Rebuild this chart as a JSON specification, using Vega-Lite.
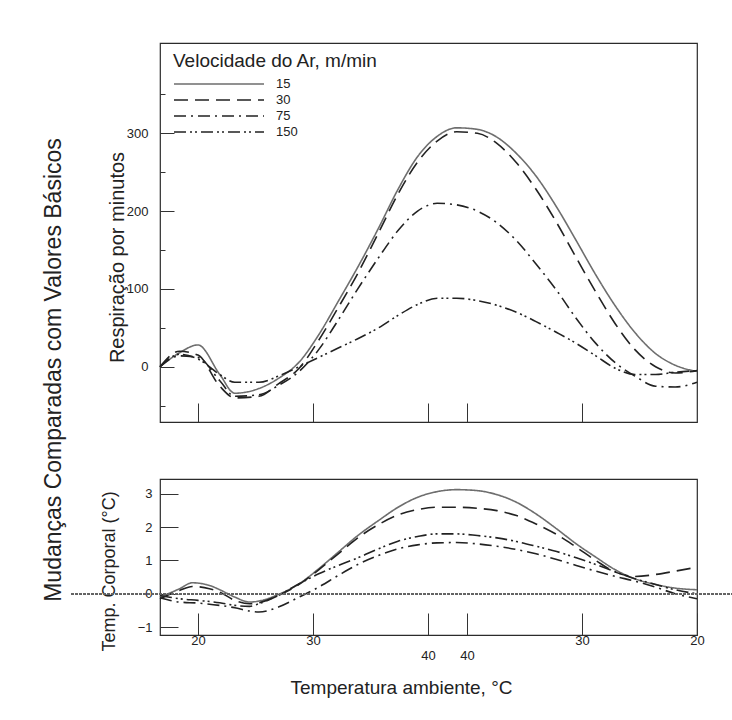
{
  "$schema": "https://vega.github.io/schema/vega-lite/v6.json",
  "background": "white",
  "padding": {"left": 43, "top": 42, "right": 0, "bottom": 5},
  "title": {"text": "Mudanças Comparadas com Valores Básicos", "orient": "left", "anchor": "middle", "font": "Liberation Sans", "fontSize": 23, "fontWeight": "normal", "color": "#222", "offset": 4},
  "spacing": 54,
  "datasets": {
    "resp": [
      {"t": -3.3, "vel": "15", "resp": 0}, {"t": -1.6, "vel": "15", "resp": 18}, {"t": 0, "vel": "15", "resp": 28}, {"t": 1.9, "vel": "15", "resp": -10}, {"t": 3.2, "vel": "15", "resp": -34}, {"t": 5.3, "vel": "15", "resp": -28}, {"t": 7.0, "vel": "15", "resp": -15}, {"t": 8.8, "vel": "15", "resp": 6}, {"t": 10.5, "vel": "15", "resp": 41}, {"t": 12.2, "vel": "15", "resp": 84}, {"t": 13.9, "vel": "15", "resp": 128}, {"t": 15.7, "vel": "15", "resp": 178}, {"t": 17.4, "vel": "15", "resp": 228}, {"t": 19.1, "vel": "15", "resp": 270}, {"t": 20.8, "vel": "15", "resp": 296}, {"t": 22.5, "vel": "15", "resp": 307}, {"t": 24.3, "vel": "15", "resp": 305}, {"t": 26.0, "vel": "15", "resp": 295}, {"t": 27.7, "vel": "15", "resp": 274}, {"t": 29.4, "vel": "15", "resp": 245}, {"t": 31.2, "vel": "15", "resp": 205}, {"t": 32.9, "vel": "15", "resp": 162}, {"t": 34.6, "vel": "15", "resp": 118}, {"t": 36.3, "vel": "15", "resp": 78}, {"t": 38.0, "vel": "15", "resp": 44}, {"t": 39.8, "vel": "15", "resp": 17}, {"t": 41.5, "vel": "15", "resp": 2}, {"t": 43.4, "vel": "15", "resp": -6},
      {"t": -3.3, "vel": "30", "resp": 0}, {"t": -1.6, "vel": "30", "resp": 20}, {"t": 0, "vel": "30", "resp": 15}, {"t": 1.9, "vel": "30", "resp": -25}, {"t": 3.2, "vel": "30", "resp": -40}, {"t": 5.3, "vel": "30", "resp": -38}, {"t": 7.0, "vel": "30", "resp": -22}, {"t": 8.8, "vel": "30", "resp": -2}, {"t": 10.5, "vel": "30", "resp": 34}, {"t": 12.2, "vel": "30", "resp": 76}, {"t": 13.9, "vel": "30", "resp": 120}, {"t": 15.7, "vel": "30", "resp": 172}, {"t": 17.4, "vel": "30", "resp": 222}, {"t": 19.1, "vel": "30", "resp": 263}, {"t": 20.8, "vel": "30", "resp": 290}, {"t": 22.5, "vel": "30", "resp": 302}, {"t": 24.3, "vel": "30", "resp": 300}, {"t": 26.0, "vel": "30", "resp": 287}, {"t": 27.7, "vel": "30", "resp": 262}, {"t": 29.4, "vel": "30", "resp": 228}, {"t": 31.2, "vel": "30", "resp": 185}, {"t": 32.9, "vel": "30", "resp": 140}, {"t": 34.6, "vel": "30", "resp": 96}, {"t": 36.3, "vel": "30", "resp": 55}, {"t": 38.0, "vel": "30", "resp": 22}, {"t": 39.8, "vel": "30", "resp": 0}, {"t": 41.5, "vel": "30", "resp": -8}, {"t": 43.4, "vel": "30", "resp": -5},
      {"t": -3.3, "vel": "75", "resp": 0}, {"t": -1.6, "vel": "75", "resp": 14}, {"t": 0, "vel": "75", "resp": 12}, {"t": 1.9, "vel": "75", "resp": -18}, {"t": 3.2, "vel": "75", "resp": -38}, {"t": 5.3, "vel": "75", "resp": -36}, {"t": 7.0, "vel": "75", "resp": -24}, {"t": 8.8, "vel": "75", "resp": -6}, {"t": 10.5, "vel": "75", "resp": 22}, {"t": 12.2, "vel": "75", "resp": 60}, {"t": 13.9, "vel": "75", "resp": 100}, {"t": 15.7, "vel": "75", "resp": 140}, {"t": 17.4, "vel": "75", "resp": 175}, {"t": 19.1, "vel": "75", "resp": 200}, {"t": 20.8, "vel": "75", "resp": 210}, {"t": 22.5, "vel": "75", "resp": 208}, {"t": 24.3, "vel": "75", "resp": 200}, {"t": 26.0, "vel": "75", "resp": 185}, {"t": 27.7, "vel": "75", "resp": 162}, {"t": 29.4, "vel": "75", "resp": 132}, {"t": 31.2, "vel": "75", "resp": 98}, {"t": 32.9, "vel": "75", "resp": 62}, {"t": 34.6, "vel": "75", "resp": 30}, {"t": 36.3, "vel": "75", "resp": 5}, {"t": 38.0, "vel": "75", "resp": -12}, {"t": 39.8, "vel": "75", "resp": -25}, {"t": 41.5, "vel": "75", "resp": -26}, {"t": 43.4, "vel": "75", "resp": -20},
      {"t": -3.3, "vel": "150", "resp": 0}, {"t": -1.6, "vel": "150", "resp": 16}, {"t": 0, "vel": "150", "resp": 10}, {"t": 1.9, "vel": "150", "resp": -10}, {"t": 3.2, "vel": "150", "resp": -20}, {"t": 5.3, "vel": "150", "resp": -20}, {"t": 7.0, "vel": "150", "resp": -12}, {"t": 8.8, "vel": "150", "resp": 0}, {"t": 10.5, "vel": "150", "resp": 12}, {"t": 12.2, "vel": "150", "resp": 24}, {"t": 13.9, "vel": "150", "resp": 36}, {"t": 15.7, "vel": "150", "resp": 50}, {"t": 17.4, "vel": "150", "resp": 66}, {"t": 19.1, "vel": "150", "resp": 80}, {"t": 20.8, "vel": "150", "resp": 88}, {"t": 22.5, "vel": "150", "resp": 88}, {"t": 24.3, "vel": "150", "resp": 85}, {"t": 26.0, "vel": "150", "resp": 79}, {"t": 27.7, "vel": "150", "resp": 70}, {"t": 29.4, "vel": "150", "resp": 58}, {"t": 31.2, "vel": "150", "resp": 44}, {"t": 32.9, "vel": "150", "resp": 30}, {"t": 34.6, "vel": "150", "resp": 14}, {"t": 36.3, "vel": "150", "resp": -2}, {"t": 38.0, "vel": "150", "resp": -10}, {"t": 39.8, "vel": "150", "resp": -10}, {"t": 41.5, "vel": "150", "resp": -7}, {"t": 43.4, "vel": "150", "resp": -5}
    ],
    "temp": [
      {"t": -3.3, "vel": "15", "temp": -0.1}, {"t": -1.6, "vel": "15", "temp": 0.15}, {"t": -0.5, "vel": "15", "temp": 0.33}, {"t": 1.0, "vel": "15", "temp": 0.25}, {"t": 1.9, "vel": "15", "temp": 0.12}, {"t": 3.2, "vel": "15", "temp": -0.1}, {"t": 4.5, "vel": "15", "temp": -0.25}, {"t": 5.3, "vel": "15", "temp": -0.22}, {"t": 7.0, "vel": "15", "temp": -0.02}, {"t": 8.8, "vel": "15", "temp": 0.3}, {"t": 10.5, "vel": "15", "temp": 0.75}, {"t": 12.2, "vel": "15", "temp": 1.25}, {"t": 13.9, "vel": "15", "temp": 1.75}, {"t": 15.7, "vel": "15", "temp": 2.2}, {"t": 17.4, "vel": "15", "temp": 2.6}, {"t": 19.1, "vel": "15", "temp": 2.9}, {"t": 20.8, "vel": "15", "temp": 3.07}, {"t": 22.5, "vel": "15", "temp": 3.13}, {"t": 24.3, "vel": "15", "temp": 3.1}, {"t": 26.0, "vel": "15", "temp": 2.98}, {"t": 27.7, "vel": "15", "temp": 2.75}, {"t": 29.4, "vel": "15", "temp": 2.4}, {"t": 31.2, "vel": "15", "temp": 1.95}, {"t": 32.9, "vel": "15", "temp": 1.5}, {"t": 34.6, "vel": "15", "temp": 1.1}, {"t": 36.3, "vel": "15", "temp": 0.72}, {"t": 38.0, "vel": "15", "temp": 0.45}, {"t": 39.8, "vel": "15", "temp": 0.28}, {"t": 41.5, "vel": "15", "temp": 0.17}, {"t": 43.4, "vel": "15", "temp": 0.12},
      {"t": -3.3, "vel": "30", "temp": -0.15}, {"t": -1.6, "vel": "30", "temp": 0.1}, {"t": -0.5, "vel": "30", "temp": 0.22}, {"t": 1.0, "vel": "30", "temp": 0.15}, {"t": 1.9, "vel": "30", "temp": 0.05}, {"t": 3.2, "vel": "30", "temp": -0.2}, {"t": 4.5, "vel": "30", "temp": -0.3}, {"t": 5.3, "vel": "30", "temp": -0.27}, {"t": 7.0, "vel": "30", "temp": -0.05}, {"t": 8.8, "vel": "30", "temp": 0.28}, {"t": 10.5, "vel": "30", "temp": 0.72}, {"t": 12.2, "vel": "30", "temp": 1.2}, {"t": 13.9, "vel": "30", "temp": 1.68}, {"t": 15.7, "vel": "30", "temp": 2.08}, {"t": 17.4, "vel": "30", "temp": 2.37}, {"t": 19.1, "vel": "30", "temp": 2.53}, {"t": 20.8, "vel": "30", "temp": 2.6}, {"t": 22.5, "vel": "30", "temp": 2.6}, {"t": 24.3, "vel": "30", "temp": 2.57}, {"t": 26.0, "vel": "30", "temp": 2.5}, {"t": 27.7, "vel": "30", "temp": 2.35}, {"t": 29.4, "vel": "30", "temp": 2.1}, {"t": 31.2, "vel": "30", "temp": 1.78}, {"t": 32.9, "vel": "30", "temp": 1.4}, {"t": 34.6, "vel": "30", "temp": 1.0}, {"t": 36.3, "vel": "30", "temp": 0.65}, {"t": 38.0, "vel": "30", "temp": 0.52}, {"t": 39.8, "vel": "30", "temp": 0.58}, {"t": 41.5, "vel": "30", "temp": 0.68}, {"t": 43.4, "vel": "30", "temp": 0.8},
      {"t": -3.3, "vel": "75", "temp": -0.12}, {"t": -1.6, "vel": "75", "temp": -0.25}, {"t": 0, "vel": "75", "temp": -0.28}, {"t": 1.9, "vel": "75", "temp": -0.35}, {"t": 3.2, "vel": "75", "temp": -0.42}, {"t": 4.5, "vel": "75", "temp": -0.52}, {"t": 5.3, "vel": "75", "temp": -0.55}, {"t": 7.0, "vel": "75", "temp": -0.4}, {"t": 8.8, "vel": "75", "temp": -0.1}, {"t": 10.5, "vel": "75", "temp": 0.2}, {"t": 12.2, "vel": "75", "temp": 0.55}, {"t": 13.9, "vel": "75", "temp": 0.88}, {"t": 15.7, "vel": "75", "temp": 1.15}, {"t": 17.4, "vel": "75", "temp": 1.35}, {"t": 19.1, "vel": "75", "temp": 1.47}, {"t": 20.8, "vel": "75", "temp": 1.53}, {"t": 22.5, "vel": "75", "temp": 1.54}, {"t": 24.3, "vel": "75", "temp": 1.5}, {"t": 26.0, "vel": "75", "temp": 1.43}, {"t": 27.7, "vel": "75", "temp": 1.33}, {"t": 29.4, "vel": "75", "temp": 1.2}, {"t": 31.2, "vel": "75", "temp": 1.03}, {"t": 32.9, "vel": "75", "temp": 0.85}, {"t": 34.6, "vel": "75", "temp": 0.68}, {"t": 36.3, "vel": "75", "temp": 0.52}, {"t": 38.0, "vel": "75", "temp": 0.38}, {"t": 39.8, "vel": "75", "temp": 0.2}, {"t": 41.5, "vel": "75", "temp": 0.0}, {"t": 43.4, "vel": "75", "temp": -0.15},
      {"t": -3.3, "vel": "150", "temp": -0.05}, {"t": -1.6, "vel": "150", "temp": -0.15}, {"t": 0, "vel": "150", "temp": -0.2}, {"t": 1.9, "vel": "150", "temp": -0.27}, {"t": 3.2, "vel": "150", "temp": -0.35}, {"t": 4.5, "vel": "150", "temp": -0.38}, {"t": 5.3, "vel": "150", "temp": -0.3}, {"t": 7.0, "vel": "150", "temp": -0.05}, {"t": 8.8, "vel": "150", "temp": 0.3}, {"t": 10.5, "vel": "150", "temp": 0.6}, {"t": 12.2, "vel": "150", "temp": 0.85}, {"t": 13.9, "vel": "150", "temp": 1.08}, {"t": 15.7, "vel": "150", "temp": 1.35}, {"t": 17.4, "vel": "150", "temp": 1.58}, {"t": 19.1, "vel": "150", "temp": 1.72}, {"t": 20.8, "vel": "150", "temp": 1.8}, {"t": 22.5, "vel": "150", "temp": 1.8}, {"t": 24.3, "vel": "150", "temp": 1.75}, {"t": 26.0, "vel": "150", "temp": 1.68}, {"t": 27.7, "vel": "150", "temp": 1.57}, {"t": 29.4, "vel": "150", "temp": 1.43}, {"t": 31.2, "vel": "150", "temp": 1.27}, {"t": 32.9, "vel": "150", "temp": 1.08}, {"t": 34.6, "vel": "150", "temp": 0.88}, {"t": 36.3, "vel": "150", "temp": 0.66}, {"t": 38.0, "vel": "150", "temp": 0.45}, {"t": 39.8, "vel": "150", "temp": 0.28}, {"t": 41.5, "vel": "150", "temp": 0.12}, {"t": 43.4, "vel": "150", "temp": 0.0}
    ]
  },
  "vconcat": [
    {
      "width": 537,
      "height": 379,
      "data": {"name": "resp"},
      "mark": {"type": "line", "interpolate": "monotone", "strokeWidth": 1.6},
      "encoding": {
        "x": {"field": "t", "type": "quantitative", "scale": {"domain": [-3.3, 43.4], "nice": false, "zero": false},
              "axis": {"values": [0, 10, 20, 23.4, 33.4], "labels": false, "tickSize": -19, "title": null}},
        "y": {"field": "resp", "type": "quantitative", "scale": {"domain": [-71, 416], "nice": false},
              "axis": {"values": [-50, 0, 50, 100, 150, 200, 250, 300, 350],
                       "labelExpr": "datum.value % 100 === 0 ? datum.label : ''",
                       "tickSize": {"condition": {"test": "datum.value % 100 === 0", "value": -14}, "value": -5},
                       "labelPadding": 26, "labelOverlap": false,
                       "title": "Respiração por minutos", "titleFontSize": 20, "titleX": -43, "titleY": 214, "titleBaseline": "middle"}},
        "strokeDash": {"field": "vel", "type": "nominal", "sort": ["15", "30", "75", "150"],
                       "scale": {"domain": ["15", "30", "75", "150"], "range": [[1, 0], [14, 7], [12, 5, 2, 5], [12, 4, 2, 3, 2, 4]]},
                       "legend": {"title": "Velocidade do Ar, m/min", "orient": "none", "legendX": 13, "legendY": 9}},
        "color": {"field": "vel", "type": "nominal", "sort": ["15", "30", "75", "150"],
                  "scale": {"domain": ["15", "30", "75", "150"], "range": ["#6e6e6e", "#222222", "#222222", "#222222"]},
                  "legend": {"title": "Velocidade do Ar, m/min", "orient": "none", "legendX": 13, "legendY": 9}}
      }
    },
    {
      "width": 537,
      "height": 156,
      "data": {"name": "temp"},
      "layer": [
        {
          "mark": {"type": "line", "interpolate": "monotone", "strokeWidth": 1.6},
          "encoding": {
            "x": {"field": "t", "type": "quantitative", "scale": {"domain": [-3.3, 43.4], "nice": false, "zero": false},
                  "axis": {"values": [0, 10, 20, 23.4, 33.4, 43.4],
                           "labelExpr": "datum.value < 5 || datum.value > 40 ? '20' : (datum.value < 15 || datum.value > 30 ? '30' : '40')",
                           "tickSize": -22,
                           "labelPadding": {"condition": {"test": "datum.value > 15 && datum.value < 30", "value": 36}, "value": 21},
                           "labelFlush": false, "labelOverlap": false,
                           "title": "Temperatura ambiente, °C", "titleFontSize": 19, "titleX": 241, "titleY": 52, "titleBaseline": "middle"}},
            "y": {"field": "temp", "type": "quantitative", "scale": {"domain": [-1.24, 3.45], "nice": false, "zero": false},
                  "axis": {"values": [-1, 0, 1, 2, 3], "tickSize": -18, "labelPadding": 26, "labelOverlap": false,
                           "title": "Temp. Corporal (°C)", "titleFontSize": 18, "titleX": -51, "titleY": 92, "titleBaseline": "middle"}},
            "strokeDash": {"field": "vel", "type": "nominal", "sort": ["15", "30", "75", "150"],
                           "scale": {"domain": ["15", "30", "75", "150"], "range": [[1, 0], [14, 7], [12, 5, 2, 5], [12, 4, 2, 3, 2, 4]]}, "legend": null},
            "color": {"field": "vel", "type": "nominal", "sort": ["15", "30", "75", "150"],
                      "scale": {"domain": ["15", "30", "75", "150"], "range": ["#6e6e6e", "#222222", "#222222", "#222222"]}, "legend": null}
          }
        },
        {
          "mark": {"type": "rule", "strokeDash": [2, 2], "color": "#666", "strokeWidth": 1, "clip": false},
          "encoding": {
            "x": {"datum": -11.0, "type": "quantitative",
                  "axis": {"values": [0, 10, 20, 23.4, 33.4, 43.4],
                           "labelExpr": "datum.value < 5 || datum.value > 40 ? '20' : (datum.value < 15 || datum.value > 30 ? '30' : '40')",
                           "tickSize": -22,
                           "labelPadding": {"condition": {"test": "datum.value > 15 && datum.value < 30", "value": 36}, "value": 21},
                           "labelFlush": false, "labelOverlap": false,
                           "title": "Temperatura ambiente, °C", "titleFontSize": 19, "titleX": 241, "titleY": 52, "titleBaseline": "middle"}},
            "x2": {"datum": 46.5},
            "y": {"datum": 0, "type": "quantitative",
                  "axis": {"values": [-1, 0, 1, 2, 3], "tickSize": -18, "labelPadding": 26, "labelOverlap": false,
                           "title": "Temp. Corporal (°C)", "titleFontSize": 18, "titleX": -51, "titleY": 92, "titleBaseline": "middle"}}
          }
        }
      ]
    }
  ],
  "resolve": {"scale": {"strokeDash": "independent", "color": "independent"}},
  "config": {
    "font": "Liberation Sans",
    "view": {"stroke": "#2b2b2b", "strokeWidth": 1.2},
    "axis": {"grid": false, "domain": false, "labelFont": "Liberation Sans", "labelFontSize": 13, "labelColor": "#222", "tickColor": "#333", "tickWidth": 1, "titleFont": "Liberation Sans", "titleFontWeight": "normal", "titleColor": "#222"},
    "legend": {"titleFont": "Liberation Sans", "titleFontSize": 19, "titleFontWeight": "normal", "titleColor": "#222", "titlePadding": 4, "titleLimit": 400, "labelFont": "Liberation Sans", "labelFontSize": 13, "labelColor": "#222", "symbolType": "M-1,0H10.25", "symbolSize": 256, "symbolStrokeWidth": 1.6, "labelOffset": 85, "rowPadding": 0}
  }
}
